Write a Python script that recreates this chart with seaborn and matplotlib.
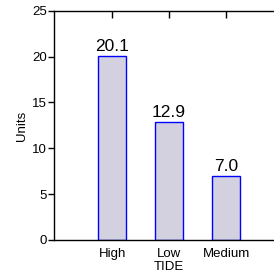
import matplotlib as mpl
mpl.use('Agg')
import matplotlib.pyplot as plt
import pandas as pd
import seaborn as sns

tide = ['High', 'Low', 'Medium']
units = [20.1, 12.9, 7.0]

df = pd.DataFrame({'TIDE': tide, 'Units': units})

sns.set_style('ticks')
plt.rcParams['font.family'] = ['Liberation Sans', 'DejaVu Sans']
plt.rcParams['text.color'] = 'black'
plt.rcParams['axes.labelcolor'] = 'black'
plt.rcParams['xtick.color'] = 'black'
plt.rcParams['ytick.color'] = 'black'

fig = plt.figure(figsize=(2.74, 2.78), dpi=100)
ax = fig.add_axes([0.197, 0.137, 0.836, 0.824])

sns.barplot(data=df, x='TIDE', y='Units', ax=ax, width=0.5,
            color='#d3d1e0', edgecolor='#0000ff', linewidth=1, saturation=1)

ax.bar_label(ax.containers[0], fmt='%.1f', fontsize=12.5, padding=1, color='black')

ax.set_xlim(-1.02, 3)
ax.set_ylim(0, 25)
ax.set_yticks([0, 5, 10, 15, 20, 25])

ax.tick_params(axis='x', direction='in', top=True, bottom=False, length=5,
               width=1, labelsize=9.5, pad=5.5)
ax.tick_params(axis='y', direction='out', length=4, width=1, labelsize=9.5,
               pad=1)
ax.set_xlabel('TIDE', fontsize=9.5, labelpad=1)
ax.set_ylabel('Units', fontsize=9.5, labelpad=3)
ax.spines['right'].set_visible(False)

for s in ax.spines.values():
    s.set_linewidth(1)
    s.set_color('black')

plt.savefig('out.png', dpi=100)
